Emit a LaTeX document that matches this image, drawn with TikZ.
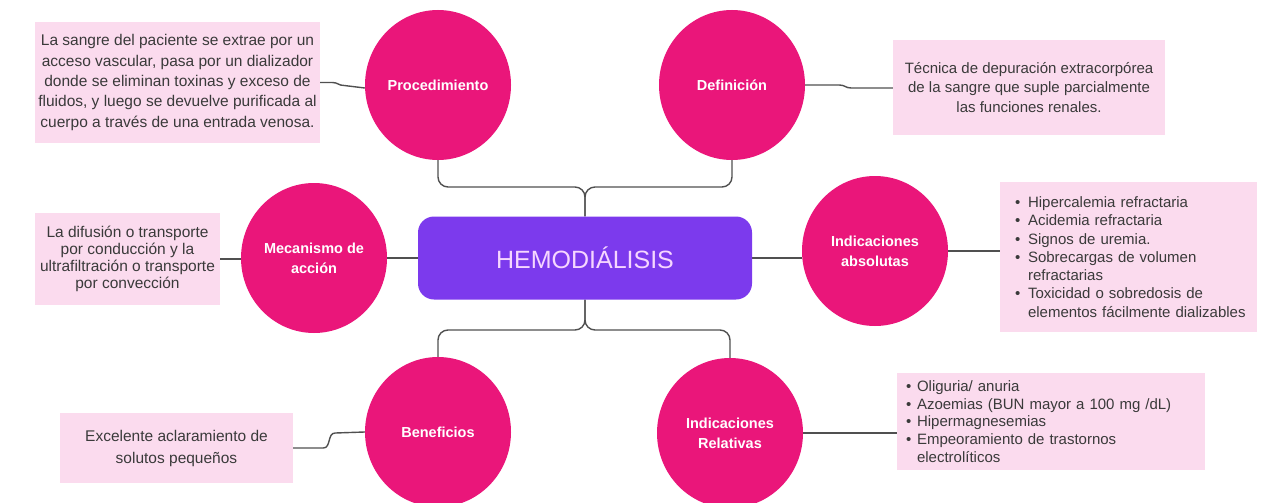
\documentclass[tikz,border=0pt]{standalone}
\usepackage{fontspec}
\setmainfont{Liberation Sans}
\usetikzlibrary{shapes.geometric,calc}
\pgfdeclarelayer{bg}
\pgfsetlayers{bg,main}

\definecolor{topicpink}{RGB}{234,22,122}
\definecolor{notepink}{RGB}{251,219,238}
\definecolor{hubviolet}{RGB}{124,58,237}
\definecolor{hubtext}{RGB}{246,214,255}
\definecolor{inkgray}{RGB}{58,58,58}
\definecolor{wiregray}{RGB}{80,80,80}

% bullet for list entries and indent for wrapped lines
\newcommand{\bul}[1]{\makebox[#1][l]{\hspace{4pt}•}}
\newcommand{\cont}[1]{\hspace*{#1}}

\begin{document}
\begin{tikzpicture}[x=1pt,y=-1pt,
  topic/.style={ellipse, fill=topicpink, minimum width=146pt, minimum height=150pt,
    inner sep=0pt, text=white, align=center,
    font=\fontsize{14.5}{20}\selectfont\bfseries},
  hub/.style={rectangle, rounded corners=16pt, fill=hubviolet, minimum width=334pt,
    minimum height=83pt, text=hubtext, font=\fontsize{25}{30}\selectfont},
  note/.style={rectangle, fill=notepink, inner sep=0pt, text=inkgray, align=center},
  listnote/.style={rectangle, fill=notepink, inner ysep=0pt, text=inkgray, align=left},
  conn/.style={draw=wiregray, line width=1.4pt}]

\useasboundingbox (0,0) rectangle (1269,503);

% central topic
\node[hub] (hemo) at (585,258) {HEMODIÁLISIS};

% branch topics
\node[topic] (proc)  at (438,85)  {Procedimiento};
\node[topic] (defi)  at (732,85)  {Definición};
\node[topic] (meca)  at (314,258) {Mecanismo de\\acción};
\node[topic] (absol) at (875,251) {Indicaciones\\absolutas};
\node[topic] (bene)  at (438,432) {Beneficios};
\node[topic] (relat) at (730,433) {Indicaciones\\Relativas};

% detail notes
\node[note, minimum width=285pt, minimum height=121pt,
      font=\fontsize{15.5}{20.3}\selectfont] (tproc) at (177.5,82.5)
  {La sangre del paciente se extrae por un\\acceso vascular, pasa por un dializador\\donde se eliminan toxinas y exceso de\\fluidos, y luego se devuelve purificada al\\cuerpo a través de una entrada venosa.};

\node[note, minimum width=272pt, minimum height=95pt,
      font=\fontsize{15}{19.5}\selectfont] (tdefi) at (1029,87.5)
  {Técnica de depuración extracorpórea\\de la sangre que suple parcialmente\\las funciones renales.};

\node[note, minimum width=185pt, minimum height=92pt,
      font=\fontsize{15.5}{17}\selectfont] (tmeca) at (127.5,259)
  {La difusión o transporte\\por conducción y la\\ultrafiltración o transporte\\por convección};

\node[listnote, text width=235pt, inner xsep=11pt, minimum height=150pt,
      font=\fontsize{15}{18.3}\selectfont] (tabs) at (1128.5,257)
  {\bul{17pt}Hipercalemia refractaria\\
   \bul{17pt}Acidemia refractaria\\
   \bul{17pt}Signos de uremia.\\
   \bul{17pt}Sobrecargas de volumen\\
   \cont{17pt}refractarias\\
   \bul{17pt}Toxicidad o sobredosis de\\
   \cont{17pt}elementos fácilmente dializables};

\node[note, minimum width=233pt, minimum height=70pt,
      font=\fontsize{15.5}{22}\selectfont] (tbene) at (176.5,448)
  {Excelente aclaramiento de\\solutos pequeños};

\node[listnote, text width=298pt, inner xsep=5pt, minimum height=97pt,
      font=\fontsize{15}{17.7}\selectfont] (trel) at (1051,421.5)
  {\bul{15pt}Oliguria/ anuria\\
   \bul{15pt}Azoemias (BUN mayor a 100 mg /dL)\\
   \bul{15pt}Hipermagnesemias\\
   \bul{15pt}Empeoramiento de trastornos\\
   \cont{15pt}electrolíticos};

% connectors, kept underneath the shapes
\begin{pgfonlayer}{bg}
  \coordinate (upbar)  at (585,187);
  \coordinate (lowbar) at (585,330);

  \draw[conn, rounded corners=10pt] (hemo.north) -- (hemo.north |- upbar)
    -- (proc.south |- upbar) -- (proc.south);
  \draw[conn, rounded corners=10pt] (hemo.north) -- (hemo.north |- upbar)
    -- (defi.south |- upbar) -- (defi.south);
  \draw[conn, rounded corners=10pt] (hemo.south) -- (hemo.south |- lowbar)
    -- (bene.north |- lowbar) -- (bene.north);
  \draw[conn, rounded corners=10pt] (hemo.south) -- (hemo.south |- lowbar)
    -- (relat.north |- lowbar) -- (relat.north);

  \draw[conn] (meca.east) -- (hemo.west);
  \draw[conn] (hemo.east) -- (hemo.east -| absol.west);
  \draw[conn] (tmeca.east) -- (tmeca.east -| meca.west);
  \draw[conn] (absol.east) -- (absol.east -| tabs.west);
  \draw[conn] (relat.east) -- (relat.east -| trel.west);

  \draw[conn] (tproc.east) -- ++(12,0) .. controls +(6,0) and +(-6,0) .. ++(12,3)
    -- (proc.west |- 0,88);
  \draw[conn] (defi.east) -- ++(34,0) .. controls +(6,0) and +(-6,0) .. ++(12,3)
    -- (tdefi.west |- 0,88);
  \draw[conn] (tbene.east) -- ++(30,0) .. controls +(8,0) and +(-8,0) .. ++(12,-15)
    -- (bene.west);
\end{pgfonlayer}
\end{tikzpicture}
\end{document}
